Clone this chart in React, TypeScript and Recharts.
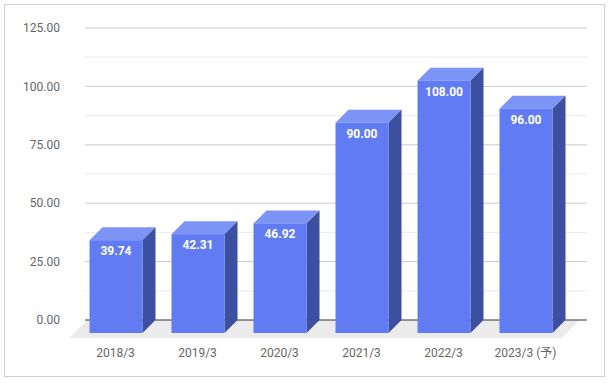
import React from "react";
import { BarChart, Bar, XAxis, YAxis, ReferenceLine, ReferenceArea } from "recharts";

// 決算期と値
const categories = ["2018/3", "2019/3", "2020/3", "2021/3", "2022/3", "2023/3 (予)"];
const values = [39.74, 42.31, 46.92, 90.0, 108.0, 96.0];

// 目盛り
const majorTicks = [0, 25, 50, 75, 100, 125];
const minorTicks = [12.5, 37.5, 62.5, 87.5, 112.5];

const data = categories.map((name, i) => ({ name, value: values[i] }));

const DEPTH = 13; // 3D の奥行き
const FLOOR = 18;
const FONT = "Roboto, 'Noto Sans CJK JP', sans-serif";

const Bar3D = (props: any) => {
  const { x, y, width, height, payload } = props;
  const fx = x - DEPTH;
  const fy = y + DEPTH;
  return (
    <g>
      {/* 上面 */}
      <polygon
        points={`${fx},${fy} ${fx + DEPTH},${fy - DEPTH} ${fx + width + DEPTH},${fy - DEPTH} ${fx + width},${fy}`}
        fill="#7d94f7"
      />
      {/* 側面 */}
      <polygon
        points={`${fx + width},${fy} ${fx + width + DEPTH},${fy - DEPTH} ${fx + width + DEPTH},${fy + height - DEPTH} ${fx + width},${fy + height}`}
        fill="#3d4fa0"
      />
      {/* 正面 */}
      <rect x={fx} y={fy} width={width} height={height} fill="#617cf3" />
      <text
        x={fx + width / 2}
        y={fy + 11}
        textAnchor="middle"
        dominantBaseline="central"
        fill="#fff"
        fontSize={12}
        fontWeight="bold"
        fontFamily={FONT}
      >
        {payload.value.toFixed(2)}
      </text>
    </g>
  );
};

const Floor = (props: any) => {
  const { x, y, width, height } = props;
  const b = y + height;
  return (
    <polygon
      points={`${x},${b} ${x + width},${b} ${x + width - FLOOR},${b + FLOOR} ${x - FLOOR},${b + FLOOR}`}
      fill="#ebebeb"
    />
  );
};

const XTick = (props: any) => {
  const { x, y, payload } = props;
  return (
    <text
      x={x - DEPTH}
      y={y + 31}
      textAnchor="middle"
      dominantBaseline="central"
      fill="#666"
      fontSize={12}
      fontFamily={FONT}
    >
      {payload.value}
    </text>
  );
};

export default function App() {
  return (
    <div style={{ position: "absolute", left: 0, top: 0, width: 612, height: 383, background: "#fff" }}>
      <div
        style={{
          position: "absolute",
          left: 4,
          top: 4,
          width: 601,
          height: 373,
          border: "1px solid #d0d0d0",
          boxSizing: "border-box",
        }}
      />
      <div style={{ position: "absolute", left: 0, top: 0 }}>
        <BarChart
          width={612}
          height={383}
          data={data}
          margin={{ top: 28, right: 25, bottom: 33, left: 0 }}
          style={{ fontFamily: FONT }}
        >
          <ReferenceArea y1={0} y2={12.5} shape={<Floor />} zIndex={-20} />
          {minorTicks.map((t) => (
            <ReferenceLine key={"m" + t} y={t} stroke="#ebebeb" zIndex={-15} />
          ))}
          {majorTicks
            .filter((t) => t !== 0)
            .map((t) => (
              <ReferenceLine key={"M" + t} y={t} stroke="#cccccc" zIndex={-10} />
            ))}
          <ReferenceLine y={0} stroke="#333" zIndex={-5} />
          <XAxis
            dataKey="name"
            height={30}
            axisLine={false}
            tickLine={false}
            tickSize={0}
            padding={{ left: 2.5, right: 7.5 }}
            tick={<XTick />}
            interval={0}
          />
          <YAxis
            width={85}
            domain={[0, 125]}
            ticks={majorTicks}
            axisLine={false}
            tickLine={false}
            tickSize={0}
            tickMargin={25}
            tick={{ fill: "#666", fontSize: 12 }}
            tickFormatter={(v: number) => v.toFixed(2)}
          />
          <Bar dataKey="value" barSize={53} shape={<Bar3D />} isAnimationActive={false} />
        </BarChart>
      </div>
    </div>
  );
}
